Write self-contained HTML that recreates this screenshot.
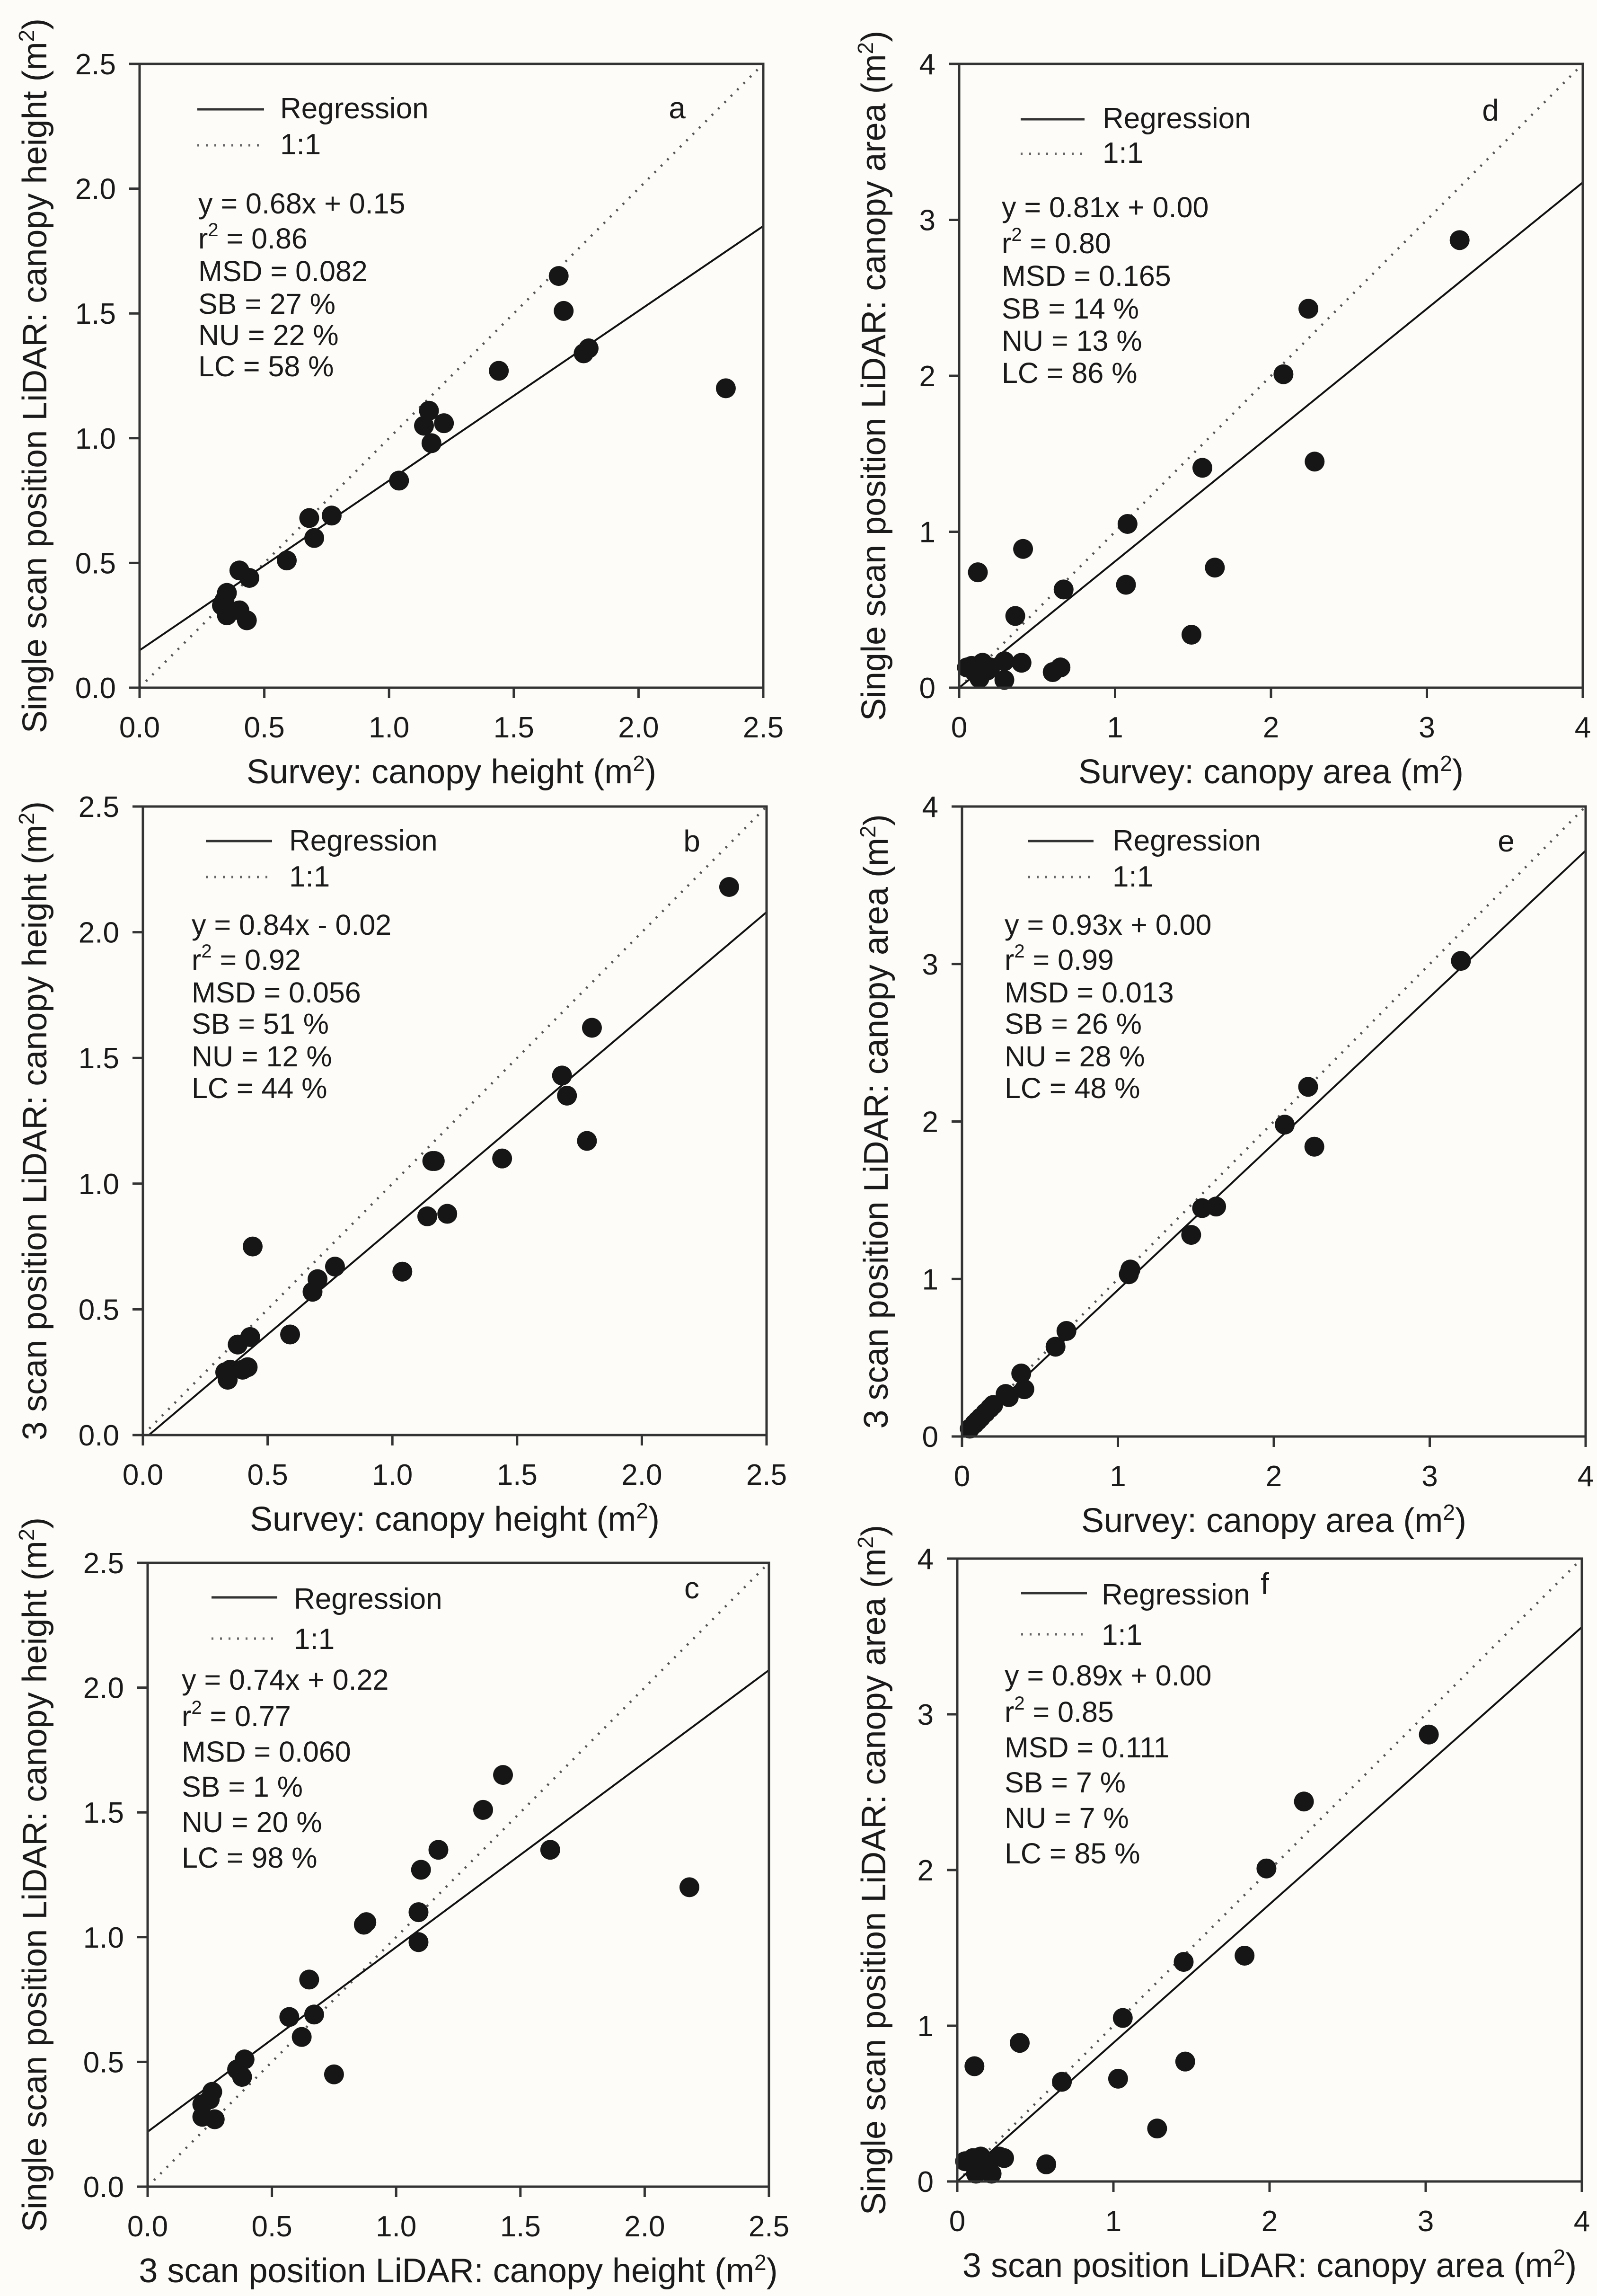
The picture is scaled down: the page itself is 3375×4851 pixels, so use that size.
<!DOCTYPE html>
<html><head><meta charset="utf-8"><style>
html,body{margin:0;padding:0;background:#fdfcf8;}
svg{display:block;font-family:"Liberation Sans",Arial,sans-serif;}
</style></head><body>
<svg id="fig" width="3375" height="4851" viewBox="0 0 3375 4851" xmlns="http://www.w3.org/2000/svg">
<rect width="3375" height="4851" fill="#fdfcf8"/>
</svg>
<script>
// ---- data arrays ----
const aX=[0.34,0.35,0.35,0.33,0.40,0.40,0.43,0.44,0.59,0.68,0.70,0.77,1.04,1.14,1.16,1.17,1.22,1.44,1.68,1.70,1.78,1.80,2.35];
const aY=[0.35,0.38,0.29,0.33,0.47,0.31,0.27,0.44,0.51,0.68,0.60,0.69,0.83,1.05,1.11,0.98,1.06,1.27,1.65,1.51,1.34,1.36,1.20];
const bX=[0.33,0.34,0.35,0.38,0.40,0.42,0.43,0.44,0.59,0.68,0.70,0.77,1.04,1.14,1.16,1.17,1.22,1.44,1.68,1.70,1.78,1.80,2.35];
const bY=[0.25,0.22,0.26,0.36,0.26,0.27,0.39,0.75,0.40,0.57,0.62,0.67,0.65,0.87,1.09,1.09,0.88,1.10,1.43,1.35,1.17,1.62,2.18];
const cX=[0.22,0.22,0.25,0.26,0.27,0.36,0.38,0.39,0.57,0.62,0.65,0.67,0.75,0.87,0.88,1.09,1.09,1.10,1.17,1.35,1.43,1.62,2.18];
const cY=[0.28,0.33,0.35,0.38,0.27,0.47,0.44,0.51,0.68,0.60,0.83,0.69,0.45,1.05,1.06,0.98,1.10,1.27,1.35,1.51,1.65,1.35,1.20];
const dX=[0.05,0.08,0.10,0.12,0.13,0.15,0.18,0.20,0.29,0.29,0.36,0.40,0.41,0.60,0.65,0.67,1.07,1.08,1.49,1.56,1.64,2.08,2.24,2.28,3.21];
const dY=[0.13,0.14,0.10,0.74,0.06,0.16,0.11,0.13,0.17,0.05,0.46,0.16,0.89,0.10,0.13,0.63,0.66,1.05,0.34,1.41,0.77,2.01,2.43,1.45,2.87];
const eX=[0.05,0.08,0.10,0.12,0.15,0.18,0.20,0.28,0.30,0.38,0.40,0.60,0.67,1.07,1.08,1.47,1.54,1.63,2.07,2.22,2.26,3.20];
const eY=[0.05,0.08,0.10,0.12,0.15,0.18,0.20,0.27,0.25,0.40,0.30,0.57,0.67,1.03,1.06,1.28,1.45,1.46,1.98,2.22,1.84,3.02];
const fX=[0.05,0.10,0.11,0.12,0.15,0.18,0.22,0.27,0.30,0.40,0.57,0.67,1.03,1.06,1.28,1.45,1.46,1.84,1.98,2.22,3.02];
const fY=[0.13,0.15,0.74,0.05,0.16,0.10,0.05,0.16,0.15,0.89,0.11,0.64,0.66,1.05,0.34,1.41,0.77,1.45,2.01,2.44,2.87];
const slopes=[0.68,0.84,0.74,0.81,0.93,0.89];
const intercepts=[0.15,-0.02,0.22,0.00,0.00,0.00];
const heightTicks=["0.0","0.5","1.0","1.5","2.0","2.5"];
const areaTicks=["0","1","2","3","4"];
const statsA=["y = 0.68x + 0.15","0.86","MSD = 0.082","SB = 27 %","NU = 22 %","LC = 58 %"];
const statsB=["y = 0.84x - 0.02","0.92","MSD = 0.056","SB = 51 %","NU = 12 %","LC = 44 %"];
const statsC=["y = 0.74x + 0.22","0.77","MSD = 0.060","SB = 1 %","NU = 20 %","LC = 98 %"];
const statsD=["y = 0.81x + 0.00","0.80","MSD = 0.165","SB = 14 %","NU = 13 %","LC = 86 %"];
const statsE=["y = 0.93x + 0.00","0.99","MSD = 0.013","SB = 26 %","NU = 28 %","LC = 48 %"];
const statsF=["y = 0.89x + 0.00","0.85","MSD = 0.111","SB = 7 %","NU = 7 %","LC = 85 %"];

const NS="http://www.w3.org/2000/svg";
const svg=document.getElementById('fig');
function mk(tag,attrs,parent){const e=document.createElementNS(NS,tag);for(const k in attrs)e.setAttribute(k,attrs[k]);(parent||svg).appendChild(e);return e;}

const panels=[
 {id:'a',L:295,T:135,W:1318,H:1318,max:2.5,ticks:heightTicks,xs:aX,ys:aY,stats:statsA,
  ytitle:"Single scan position LiDAR: canopy height",xtitle:"Survey: canopy height",ytx:72,
  lg:{x1:122,x2:263,tx:297,y1:96,b1:115,y2:172,b2:191},sx:124,sb:[316,390,459,528,594,660],let:[1136,115]},
 {id:'b',L:302,T:1704,W:1318,H:1328,max:2.5,ticks:heightTicks,xs:bX,ys:bY,stats:statsB,
  ytitle:"3 scan position LiDAR: canopy height",xtitle:"Survey: canopy height",ytx:72,
  lg:{x1:133,x2:273,tx:309,y1:73,b1:93,y2:149,b2:169},sx:103,sb:[271,345,414,480,549,616],let:[1160,95]},
 {id:'c',L:312,T:3302,W:1313,H:1318,max:2.5,ticks:heightTicks,xs:cX,ys:cY,stats:statsC,
  ytitle:"Single scan position LiDAR: canopy height",xtitle:"3 scan position LiDAR: canopy height",ytx:72,
  lg:{x1:135,x2:274,tx:309,y1:73,b1:97,y2:160,b2:182},sx:72,sb:[268,345,420,494,569,644],let:[1150,75]},
 {id:'d',L:2027,T:135,W:1318,H:1318,max:4,ticks:areaTicks,xs:dX,ys:dY,stats:statsD,
  ytitle:"Single scan position LiDAR: canopy area",xtitle:"Survey: canopy area",ytx:1845,
  lg:{x1:130,x2:265,tx:303,y1:117,b1:136,y2:190,b2:209},sx:90,sb:[324,400,469,538,606,674],let:[1123,120]},
 {id:'e',L:2033,T:1704,W:1318,H:1331,max:4,ticks:areaTicks,xs:eX,ys:eY,stats:statsE,
  ytitle:"3 scan position LiDAR: canopy area",xtitle:"Survey: canopy area",ytx:1850,
  lg:{x1:140,x2:278,tx:318,y1:73,b1:93,y2:149,b2:169},sx:90,sb:[271,345,414,480,549,616],let:[1150,95]},
 {id:'f',L:2023,T:3293,W:1320,H:1316,max:4,ticks:areaTicks,xs:fX,ys:fY,stats:statsF,
  ytitle:"Single scan position LiDAR: canopy area",xtitle:"3 scan position LiDAR: canopy area",ytx:1845,
  lg:{x1:135,x2:274,tx:305,y1:73,b1:97,y2:160,b2:182},sx:100,sb:[268,345,420,494,569,644],let:[650,75]}
];

panels.forEach((p,pi)=>{
  const g=mk('g',{});
  
  
  const B=p.T+p.H, R=p.L+p.W;
  const sx=v=>p.L+v/p.max*p.W, sy=v=>B-v/p.max*p.H;
  const cp=mk('clipPath',{id:'clip'+p.id},g);
  mk('rect',{x:p.L,y:p.T,width:p.W,height:p.H},cp);
  const one=mk('line',{x1:sx(0),y1:sy(0),x2:sx(p.max),y2:sy(p.max),stroke:'#555','stroke-width':5,'stroke-dasharray':'4 15'},g);
  
  
  const m=slopes[pi], c0=intercepts[pi];
  let x0=0; if(c0<0) x0=-c0/m;
  const reg=mk('line',{x1:sx(x0),y1:sy(m*x0+c0),x2:sx(p.max),y2:sy(m*p.max+c0),stroke:'#111','stroke-width':4,'clip-path':'url(#clip'+p.id+')'},g);
  
  
  p.xs.forEach((xv,i)=>{
    const pt=mk('circle',{cx:sx(xv),cy:sy(p.ys[i]),r:21,fill:'#161616'},g);
    
    
  });
  const fr=mk('rect',{x:p.L,y:p.T,width:p.W,height:p.H,fill:'none',stroke:'#333','stroke-width':5},g);
  
  
  const n=p.ticks.length-1;
  p.ticks.forEach((t,i)=>{
    const v=i*p.max/n;
    mk('line',{x1:sx(v),y1:B,x2:sx(v),y2:B+22,stroke:'#333','stroke-width':5},g);
    mk('line',{x1:p.L-22,y1:sy(v),x2:p.L,y2:sy(v),stroke:'#333','stroke-width':5},g);
    const xl=mk('text',{x:sx(v),y:B+105,'font-size':62,'text-anchor':'middle',fill:'#1a1a1a'},g);
    xl.textContent=t;
    
    
    const yl=mk('text',{x:p.L-50,y:sy(v)+22,'font-size':62,'text-anchor':'end',fill:'#1a1a1a'},g);
    yl.textContent=t;
    
    
  });
  const xt=mk('text',{x:p.L+p.W/2,y:B+202,'font-size':72,'text-anchor':'middle',fill:'#1a1a1a'},g);
  xt.appendChild(document.createTextNode(p.xtitle+' (m'));
  const s1=mk('tspan',{dy:-26,'font-size':46},xt); s1.textContent='2';
  const s2=mk('tspan',{dy:26},xt); s2.textContent=')';
  
  
  const cy=p.T+p.H/2;
  const yt=mk('text',{x:p.ytx,y:cy,'font-size':72,'text-anchor':'middle',fill:'#1a1a1a',transform:`rotate(-90 ${p.ytx} ${cy}) translate(0 26)`},g);
  yt.appendChild(document.createTextNode(p.ytitle+' (m'));
  const s3=mk('tspan',{dy:-26,'font-size':46},yt); s3.textContent='2';
  const s4=mk('tspan',{dy:26},yt); s4.textContent=')';
  
  
  const lg=p.lg;
  const l1=mk('line',{x1:p.L+lg.x1,y1:p.T+lg.y1,x2:p.L+lg.x2,y2:p.T+lg.y1,stroke:'#333','stroke-width':5},g);
  
  
  const t1=mk('text',{x:p.L+lg.tx,y:p.T+lg.b1,'font-size':62,fill:'#1a1a1a'},g); t1.textContent='Regression';
  
  
  const l2=mk('line',{x1:p.L+lg.x1,y1:p.T+lg.y2,x2:p.L+lg.x2,y2:p.T+lg.y2,stroke:'#666','stroke-width':5,'stroke-dasharray':'4 14'},g);
  
  
  const t2=mk('text',{x:p.L+lg.tx,y:p.T+lg.b2,'font-size':62,fill:'#1a1a1a'},g); t2.textContent='1:1';
  
  
  p.stats.forEach((s,i)=>{
    const st=mk('text',{x:p.L+p.sx,y:p.T+p.sb[i],'font-size':61,fill:'#1a1a1a'},g);
    if(i===1){
      st.appendChild(document.createTextNode('r'));
      const sp=mk('tspan',{dy:-26,'font-size':40},st); sp.textContent='2';
      const rs=mk('tspan',{dy:26},st); rs.textContent=' = '+s;
    } else st.textContent=s;
    
    
  });
  const lt=mk('text',{x:p.L+p.let[0],y:p.T+p.let[1],'font-size':64,'text-anchor':'middle',fill:'#1a1a1a'},g);
  lt.textContent=p.id;
  
  
});
</script>
</body></html>
